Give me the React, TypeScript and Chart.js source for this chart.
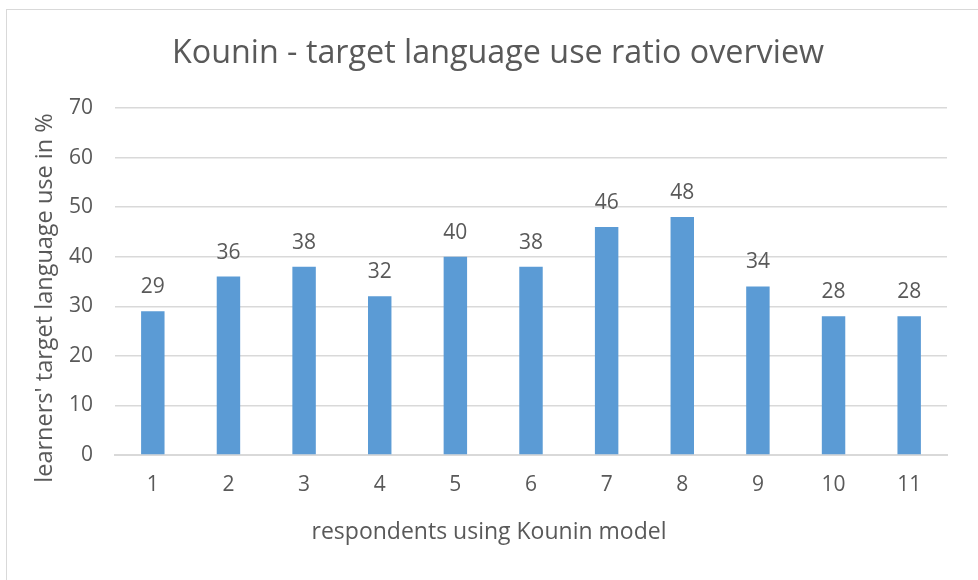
import React, { useEffect, useRef } from "react";
import { Chart, registerables } from "chart.js";

Chart.register(...registerables);

const categories: string[] = ["1", "2", "3", "4", "5", "6", "7", "8", "9", "10", "11"];
const values: number[] = [29, 36, 38, 32, 40, 38, 46, 48, 34, 28, 28];
const chartTitle = "Kounin - target language use ratio overview";
const xTitle = "respondents using Kounin model";
const yTitle = "learners' target language use in %";
const yMin = 0;
const yMax = 70;
const yStep = 10;

const FONT = "'Open Sans', sans-serif";
const TEXT = "#595959";
const GRID = "#d9d9d9";
const BAR = "#5B9BD5";

const textPlugin = {
  id: "customText",
  afterDraw(chart: any) {
    const ctx = chart.ctx;
    ctx.save();
    ctx.fillStyle = TEXT;
    ctx.textAlign = "center";
    ctx.textBaseline = "middle";
    ctx.font = `32.3px ${FONT}`;
    ctx.fillText(chartTitle, 498, 54);
    ctx.font = `23px ${FONT}`;
    ctx.fillText(xTitle, 489, 532);
    ctx.translate(45, 298);
    ctx.rotate(-Math.PI / 2);
    ctx.font = `23.5px ${FONT}`;
    ctx.fillText(yTitle, 0, 0);
    ctx.restore();
  },
};

const labelPlugin = {
  id: "barLabels",
  afterDatasetsDraw(chart: any) {
    const ctx = chart.ctx;
    const meta = chart.getDatasetMeta(0);
    ctx.save();
    ctx.fillStyle = TEXT;
    ctx.textAlign = "center";
    ctx.textBaseline = "alphabetic";
    ctx.font = `21px ${FONT}`;
    meta.data.forEach((bar: any, i: number) => {
      ctx.fillText(String(values[i]), bar.x, bar.y - 18);
    });
    ctx.restore();
  },
};

export default function App() {
  const ref = useRef<HTMLCanvasElement>(null);
  useEffect(() => {
    if (!ref.current) return;
    const chart = new Chart(ref.current, {
      type: "bar",
      data: {
        labels: categories,
        datasets: [
          {
            data: values,
            backgroundColor: BAR,
            barPercentage: 0.31,
            categoryPercentage: 1,
          },
        ],
      },
      options: {
        responsive: false,
        animation: false,
        layout: { padding: { left: 0, right: 31, top: 108, bottom: 0 } },
        plugins: {
          legend: { display: false },
          title: { display: false },
          tooltip: { enabled: false },
        },
        scales: {
          x: {
            grid: { display: false, drawTicks: false },
            border: { display: true, color: GRID, width: 2 },
            ticks: { color: TEXT, font: { family: FONT, size: 21 }, padding: 17 },
            afterFit(scale: any) {
              scale.height = 125;
            },
          },
          y: {
            min: yMin,
            max: yMax,
            grid: { color: GRID, lineWidth: 1.5, drawTicks: false },
            border: { display: false },
            ticks: { stepSize: yStep, color: TEXT, font: { family: FONT, size: 21 }, padding: 22 },
            title: { display: false },
            afterFit(scale: any) {
              scale.width = 115;
            },
          },
        },
      },
      plugins: [textPlugin, labelPlugin],
    });
    return () => chart.destroy();
  }, []);

  return (
    <div
      style={{
        position: "fixed",
        left: 0,
        top: 0,
        width: 978,
        height: 580,
        overflow: "hidden",
        background: "#fff",
      }}
    >
      <div
        style={{
          position: "absolute",
          left: 6,
          top: 9,
          width: 1100,
          height: 700,
          border: "1.5px solid #d9d9d9",
          boxSizing: "border-box",
        }}
      />
      <canvas
        ref={ref}
        width={978}
        height={580}
        style={{ position: "absolute", left: 0, top: 0 }}
      />
    </div>
  );
}
